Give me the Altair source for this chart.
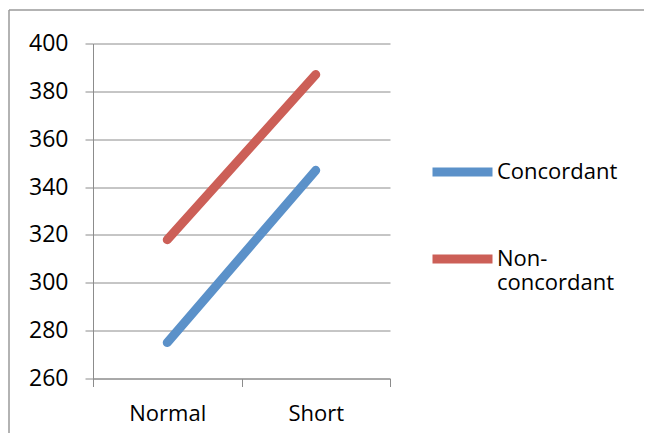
import altair as alt
import pandas as pd

categories = ["Normal", "Short"]
concordant = [275, 347]
non_concordant = [318, 387]
series_names = ["Concordant", "Non-concordant"]
colors = ["#5B91C9", "#CC5F57"]

rows = []
for name, vals in zip(series_names, [concordant, non_concordant]):
    for c, v in zip(categories, vals):
        rows.append({"cat": c, "value": v, "series": name})
df = pd.DataFrame(rows)

FONT = "Open Sans"
GRID = "#8C8C8C"

lines = alt.Chart(df).mark_line(strokeWidth=9, strokeCap="round", strokeJoin="round").encode(
    x=alt.X("cat:N", sort=categories, bandPosition=0.5,
            scale=alt.Scale(type="band", paddingInner=0, paddingOuter=0),
            axis=alt.Axis(title=None, labelAngle=0, tickBand="extent", grid=False,
                          domainColor=GRID, tickColor=GRID, tickSize=8,
                          labelFont=FONT, labelFontSize=22, labelColor="black",
                          labelPadding=17)),
    y=alt.Y("value:Q", scale=alt.Scale(domain=[260, 400], nice=False),
            axis=alt.Axis(title=None, values=list(range(260, 401, 20)),
                          grid=True, gridColor=GRID, domainColor=GRID, tickColor=GRID,
                          tickSize=8, labelFont=FONT, labelFontSize=23, labelColor="black",
                          labelPadding=17)),
    color=alt.Color("series:N", sort=series_names,
                    scale=alt.Scale(domain=series_names, range=colors),
                    legend=alt.Legend(title=None, orient="none", legendX=335, legendY=94,
                                      symbolType="stroke", symbolSize=3600, symbolStrokeWidth=9,
                                      labelFont=FONT, labelFontSize=22, labelColor="black",
                                      labelOffset=0, rowPadding=34,
                                      labelExpr="datum.label == 'Non-concordant' ? ['Non-', 'concordant'] : datum.label")),
)

frame_df = pd.DataFrame({"k": [0]})
frame_top = alt.Chart(frame_df).mark_rule(stroke="#9A9A9A", strokeWidth=1.5).encode(
    x=alt.value(-84), x2=alt.value(551), y=alt.value(-33.5)
)
frame_left = alt.Chart(frame_df).mark_rule(stroke="#9A9A9A", strokeWidth=1.5).encode(
    x=alt.value(-84), y=alt.value(-33.5), y2=alt.value(390)
)

chart = alt.layer(frame_top, frame_left, lines).properties(
    width=297, height=335,
    padding={"left": 85, "top": 35.5, "right": 254, "bottom": 54},
    autosize=alt.AutoSizeParams(type="none"),
).configure_view(stroke=None)

chart.save("out.html", embed_options={"renderer": "svg", "actions": False})
